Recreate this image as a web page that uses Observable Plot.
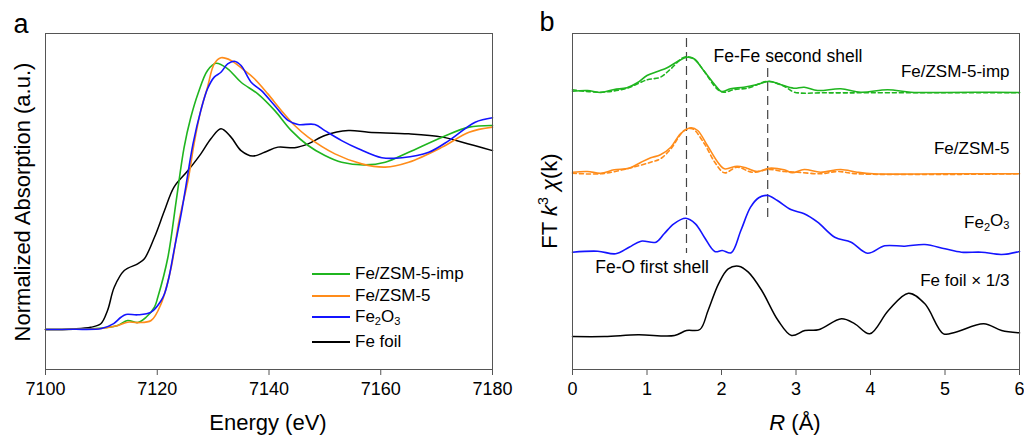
<!DOCTYPE html>
<html>
<head>
<meta charset="utf-8">
<script src="https://cdn.jsdelivr.net/npm/d3@7"></script>
<script src="https://cdn.jsdelivr.net/npm/@observablehq/plot@0.6"></script>
<style>
  html, body { margin: 0; padding: 0; background: #fff; }
  #fig { position: relative; width: 1024px; height: 435px; font-family: "Liberation Sans", Arial, sans-serif; color: #000; overflow: hidden; }
  .panel { position: absolute; top: 0; }
  .lbl { position: absolute; white-space: nowrap; line-height: 1; }
  .legend-row { position: absolute; display: flex; align-items: center; height: 20px; font-size: 17px; white-space: nowrap; }
  .swatch { display: inline-block; width: 38px; height: 0; border-top: 2px solid; margin-right: 5px; }
</style>
</head>
<body>
<div id="fig"></div>
<script>
// ---------- (a) Fe K-edge XANES: energy (eV) and normalized absorption ----------
const xanesTicks = [7100, 7120, 7140, 7160, 7180];

const impE  = [7100, 7105, 7108, 7111, 7112.9, 7114.7, 7116.5, 7118.0, 7119.5, 7120.1, 7121.9, 7123.4, 7124.8, 7126.0, 7127.3, 7129.0, 7130.5, 7132.6, 7135.0, 7138.0, 7141.0, 7144.0, 7147.0, 7150.0, 7153.0, 7157.2, 7160.8, 7165.0, 7171.0, 7175.8, 7180];
const impMu = [0, 0.001, 0.003, 0.01, 0.02, 0.044, 0.034, 0.06, 0.11, 0.158, 0.353, 0.632, 0.892, 1.039, 1.157, 1.27, 1.305, 1.278, 1.212, 1.155, 1.074, 0.975, 0.902, 0.853, 0.82, 0.807, 0.82, 0.869, 0.943, 0.992, 1.0];

const zsmE  = [7100, 7105, 7110, 7113, 7114.7, 7116.5, 7118.9, 7120.7, 7122.5, 7123.9, 7125.5, 7126.6, 7127.8, 7129.0, 7130.2, 7131.4, 7133.2, 7135.6, 7137.4, 7139.8, 7142.2, 7144.6, 7147.0, 7151.8, 7156.6, 7160.8, 7165.0, 7171.0, 7175.8, 7180];
const zsmMu = [0, 0.001, 0.005, 0.02, 0.036, 0.034, 0.044, 0.127, 0.305, 0.534, 0.73, 0.912, 1.074, 1.188, 1.302, 1.332, 1.319, 1.27, 1.229, 1.155, 1.074, 1.0, 0.943, 0.861, 0.812, 0.796, 0.82, 0.894, 0.967, 0.992];

const oxE  = [7100, 7105, 7110, 7112.2, 7113.5, 7114.4, 7116.5, 7118.9, 7120.7, 7121.3, 7122.1, 7123.0, 7124.3, 7125.1, 7126.4, 7127.8, 7129.0, 7130.2, 7131.4, 7132.6, 7133.8, 7135.0, 7136.8, 7138.6, 7141.0, 7143.4, 7145.2, 7148.2, 7150.0, 7153.0, 7156.0, 7160.2, 7163.8, 7168.6, 7172.2, 7176.9, 7180];
const oxMu = [0, 0.001, 0.005, 0.029, 0.06, 0.074, 0.072, 0.085, 0.142, 0.175, 0.256, 0.387, 0.569, 0.698, 0.91, 1.074, 1.18, 1.237, 1.261, 1.302, 1.315, 1.294, 1.212, 1.172, 1.098, 1.025, 1.005, 1.005, 0.975, 0.926, 0.886, 0.842, 0.842, 0.869, 0.926, 1.016, 1.038];

const foilE  = [7100, 7105, 7108.1, 7109.9, 7111.1, 7112.3, 7114.1, 7116.5, 7117.7, 7119.5, 7121.3, 7123.0, 7125.5, 7127.8, 7129.6, 7131.4, 7133.2, 7135.0, 7137.1, 7139.2, 7141.6, 7144.6, 7147.0, 7150.0, 7154.2, 7157.8, 7165.0, 7171.0, 7174.6, 7180];
const foilMu = [0, 0.003, 0.011, 0.028, 0.093, 0.207, 0.289, 0.322, 0.347, 0.452, 0.583, 0.698, 0.779, 0.861, 0.935, 0.984, 0.943, 0.877, 0.85, 0.869, 0.894, 0.891, 0.91, 0.951, 0.975, 0.967, 0.959, 0.943, 0.918, 0.877];

// ---------- (b) Fourier-transformed k^3-weighted EXAFS, R (Å) ----------
const rTicks = [0, 1, 2, 3, 4, 5, 6];

const impR    = [0, 0.2, 0.38, 0.56, 0.73, 0.87, 1.0, 1.14, 1.27, 1.41, 1.54, 1.63, 1.76, 1.9, 2.0, 2.12, 2.3, 2.48, 2.64, 2.79, 2.97, 3.11, 3.29, 3.6, 3.87, 4.23, 4.54, 4.94, 5.39, 6.0];
const impFT   = [0.13, 0.2, 0.0, 0.3, 0.47, 0.97, 1.7, 2.1, 2.47, 3.1, 3.53, 3.37, 2.2, 0.87, 0.1, 0.37, 0.53, 0.8, 1.13, 0.8, 0.43, 0.53, 0.2, 0.37, 0.03, 0.27, 0.03, 0.0, 0.03, 0.0];
const impFitR = [0, 0.38, 0.73, 1.0, 1.18, 1.32, 1.5, 1.63, 1.76, 1.94, 2.03, 2.17, 2.35, 2.62, 2.84, 2.98, 3.38, 4.0, 5.0, 6.0];
const impFit  = [0.27, 0.03, 0.43, 1.27, 1.53, 2.37, 3.53, 3.37, 2.2, 0.37, 0.03, 0.3, 0.43, 1.1, 0.63, 0.03, -0.03, -0.03, -0.03, -0.03];

const zsmR    = [0, 0.2, 0.38, 0.56, 0.76, 0.92, 1.05, 1.18, 1.32, 1.45, 1.59, 1.68, 1.81, 1.95, 2.04, 2.21, 2.34, 2.48, 2.64, 2.84, 2.95, 3.11, 3.33, 3.6, 3.82, 4.04, 5.0, 6.0];
const zsmFT   = [0.13, 0.2, 0.03, 0.37, 0.53, 1.13, 1.57, 1.87, 2.63, 3.97, 4.57, 4.3, 2.8, 1.13, 0.47, 0.73, 0.53, 0.2, 0.53, 0.37, 0.07, 0.4, 0.13, 0.4, 0.13, -0.03, -0.03, -0.03];
const zsmFitR = [0, 0.38, 0.76, 1.05, 1.18, 1.32, 1.5, 1.61, 1.77, 1.91, 2.04, 2.21, 2.41, 2.64, 2.84, 3.02, 3.33, 3.56, 3.82, 6.0];
const zsmFit  = [0.03, -0.03, 0.53, 1.13, 1.47, 2.47, 4.3, 4.47, 2.97, 1.13, 0.07, 0.63, 0.13, 0.4, 0.2, 0.13, -0.03, 0.2, -0.03, -0.03];

const oxR  = [0, 0.34, 0.58, 0.76, 0.92, 1.12, 1.23, 1.36, 1.52, 1.65, 1.77, 1.91, 2.01, 2.13, 2.26, 2.39, 2.5, 2.62, 2.75, 2.93, 3.11, 3.29, 3.52, 3.74, 3.96, 4.19, 4.46, 4.73, 5.0, 5.22, 5.49, 5.76, 6.0];
const oxFT = [0.13, 0.23, -0.03, 0.63, 1.23, 1.13, 1.97, 2.97, 3.53, 2.97, 1.63, 0.2, 0.3, 0.07, 2.3, 4.63, 5.57, 5.8, 5.3, 4.4, 3.97, 3.13, 1.63, 1.13, 0.03, 0.77, 0.73, 0.9, 0.47, 0.13, 0.13, -0.1, 0.2];

// Fe foil magnitude, drawn at one third of its size
const foilR  = [0, 0.43, 0.88, 1.37, 1.53, 1.71, 1.82, 1.96, 2.09, 2.23, 2.36, 2.54, 2.76, 2.94, 3.12, 3.3, 3.61, 3.79, 3.99, 4.24, 4.51, 4.73, 4.98, 5.14, 5.52, 5.76, 6.0];
const foilFT = [0, 0, 0.51, 0.3, 1.8, 2.1, 7.8, 15.8, 20.3, 21.1, 19.3, 13.8, 4.8, 0.3, 1.8, 2.0, 5.3, 3.8, 0.8, 7.8, 13.0, 9.8, 0.8, 1.3, 3.8, 1.8, 1.1];
const foilScale = 1 / 3;

// Coordination shells marked by dashed guides: Fe-O and Fe-Fe
const shellR = [1.53, 2.62];

// ---------- drawing ----------
const FONT = '"Liberation Sans", Arial, sans-serif';
const GREEN = "#1fb51f", ORANGE = "#ff8c1a", BLUE = "#1414ff", BLACK = "#000000";
const FRAME = "#555";

const zip = (xs, ys, xk, yk, shift = 0, scale = 1) => xs.map((x, i) => ({[xk]: x, [yk]: ys[i] * scale + shift}));

const fig = document.getElementById("fig");

// panel (a)
const plotA = Plot.plot({
  width: 512, height: 435,
  marginLeft: 45, marginRight: 20, marginTop: 33, marginBottom: 66,
  x: {domain: [7100, 7180]},
  y: {domain: [-0.196, 1.451], axis: null},
  style: {fontFamily: FONT, fontSize: "18px", color: "#000", background: "transparent", overflow: "visible"},
  marks: [
    Plot.axisX({ticks: xanesTicks, tickSize: 6, tickPadding: 7, tickFormat: d3.format("d"), label: null, fontSize: 18, stroke: FRAME}),
    Plot.line(zip(foilE, foilMu, "E", "mu"), {x: "E", y: "mu", stroke: BLACK, strokeWidth: 1.5, curve: "catmull-rom"}),
    Plot.line(zip(impE, impMu, "E", "mu"), {x: "E", y: "mu", stroke: GREEN, strokeWidth: 1.6, curve: "catmull-rom"}),
    Plot.line(zip(zsmE, zsmMu, "E", "mu"), {x: "E", y: "mu", stroke: ORANGE, strokeWidth: 1.6, curve: "catmull-rom"}),
    Plot.line(zip(oxE, oxMu, "E", "mu"), {x: "E", y: "mu", stroke: BLUE, strokeWidth: 1.6, curve: "catmull-rom"}),
    Plot.frame({stroke: FRAME, strokeWidth: 1})
  ]
});
plotA.classList.add("panel");
plotA.style.left = "0px";
fig.appendChild(plotA);

// panel (b): each spectrum lifted by its own baseline
const base = {imp: 27.7, zsm: 19.6, ox: 11.6, foil: 3.3};
const shells = [
  {R: shellR[0], y1: 33.1, y2: base.ox},
  {R: shellR[1], y1: 30.1, y2: 14.9}
];
const seriesLabels = [
  {R: 6, y: base.imp + 2.13, text: "Fe/ZSM-5-imp"},
  {R: 6, y: base.zsm + 2.47, text: "Fe/ZSM-5"},
  {R: 6, y: base.ox + 3.1, text: "Fe2O3"},
  {R: 6, y: base.foil + 5.6, text: "Fe foil × 1/3"}
];
const shellLabels = [
  {R: 1.894, y: 31.3, text: "Fe-Fe second shell"},
  {R: 0.305, y: 10.23, text: "Fe-O first shell"}
];

const plotB = Plot.plot({
  width: 512, height: 435,
  marginLeft: 60, marginRight: 5, marginTop: 33, marginBottom: 66,
  x: {domain: [0, 6]},
  y: {domain: [0, 33.6], axis: null},
  style: {fontFamily: FONT, fontSize: "18px", color: "#000", background: "transparent", overflow: "visible"},
  marks: [
    Plot.axisX({ticks: rTicks, tickSize: 6, tickPadding: 7, tickFormat: d3.format("d"), label: null, fontSize: 18, stroke: FRAME}),
    Plot.ruleX(shells, {x: "R", y1: "y1", y2: "y2", stroke: "#444", strokeWidth: 1.2, strokeDasharray: "9,5"}),
    Plot.line(zip(foilR, foilFT, "R", "v", base.foil, foilScale), {x: "R", y: "v", stroke: BLACK, strokeWidth: 1.5, curve: "catmull-rom"}),
    Plot.line(zip(oxR, oxFT, "R", "v", base.ox), {x: "R", y: "v", stroke: BLUE, strokeWidth: 1.6, curve: "catmull-rom"}),
    Plot.line(zip(zsmFitR, zsmFit, "R", "v", base.zsm), {x: "R", y: "v", stroke: ORANGE, strokeWidth: 1.6, strokeDasharray: "4,3", curve: "catmull-rom"}),
    Plot.line(zip(zsmR, zsmFT, "R", "v", base.zsm), {x: "R", y: "v", stroke: ORANGE, strokeWidth: 1.6, curve: "catmull-rom"}),
    Plot.line(zip(impFitR, impFit, "R", "v", base.imp), {x: "R", y: "v", stroke: GREEN, strokeWidth: 1.6, strokeDasharray: "4,3", curve: "catmull-rom"}),
    Plot.line(zip(impR, impFT, "R", "v", base.imp), {x: "R", y: "v", stroke: GREEN, strokeWidth: 1.6, curve: "catmull-rom"}),
    Plot.text(seriesLabels, {x: "R", y: "y", text: "text", textAnchor: "end", dx: -10, fontSize: 17, fill: "#000"}),
    Plot.text(shellLabels, {x: "R", y: "y", text: "text", textAnchor: "start", fontSize: 17.5, fill: "#000"}),
    Plot.frame({stroke: FRAME, strokeWidth: 1})
  ]
});
plotB.classList.add("panel");
plotB.style.left = "512px";
fig.appendChild(plotB);

// chemical formula: set the digits of Fe2O3 as subscripts
d3.select(plotB).selectAll("text")
  .filter(function () { return this.textContent === "Fe2O3"; })
  .each(function () {
    const t = d3.select(this);
    t.text(null);
    t.append("tspan").text("Fe");
    t.append("tspan").attr("dy", "0.3em").attr("font-size", "0.65em").text("2");
    t.append("tspan").attr("dy", "-0.3em").text("O");
    t.append("tspan").attr("dy", "0.3em").attr("font-size", "0.65em").text("3");
  });

// panel letters, axis titles and legend
function label(html, cx, cy, size, rotate = 0) {
  const el = document.createElement("div");
  el.className = "lbl";
  el.innerHTML = html;
  el.style.left = cx + "px";
  el.style.top = cy + "px";
  el.style.fontSize = size + "px";
  el.style.transform = `translate(-50%, -50%) rotate(${rotate}deg)`;
  fig.appendChild(el);
}
label("a", 21, 24, 27);
label("b", 547, 22, 27);
label("Energy (eV)", 268, 423, 22);
label("<i>R</i> (Å)", 795, 423, 22);
label("Normalized Absorption (a.u.)", 23, 202, 22, -90);
label("FT <i>k</i><sup style='font-size:0.65em;vertical-align:0.6em;line-height:0'>3</sup> <i>χ</i>(k)", 550, 201, 22, -90);

const legend = [
  {name: "Fe/ZSM-5-imp", color: GREEN, y: 274},
  {name: "Fe/ZSM-5", color: ORANGE, y: 295.7},
  {name: "Fe<sub style='font-size:0.65em;vertical-align:-0.25em;line-height:0'>2</sub>O<sub style='font-size:0.65em;vertical-align:-0.25em;line-height:0'>3</sub>", color: BLUE, y: 317},
  {name: "Fe foil", color: BLACK, y: 342}
];
for (const item of legend) {
  const row = document.createElement("div");
  row.className = "legend-row";
  row.style.left = "312px";
  row.style.top = (item.y - 10) + "px";
  row.innerHTML = `<span class="swatch" style="border-color:${item.color}"></span><span>${item.name}</span>`;
  fig.appendChild(row);
}
</script>
</body>
</html>
